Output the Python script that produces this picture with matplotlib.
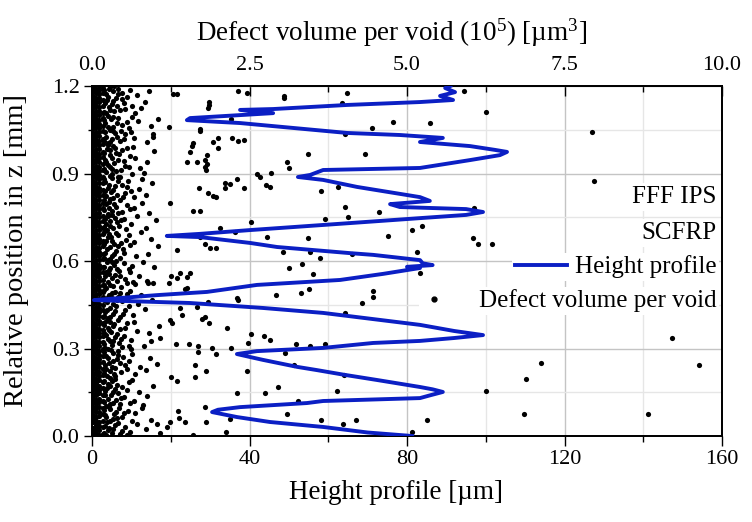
import matplotlib
matplotlib.use("Agg")
import matplotlib.pyplot as plt
from matplotlib.lines import Line2D
from matplotlib.ticker import MultipleLocator

plt.rcParams['font.family'] = ['Liberation Serif', 'DejaVu Serif']
plt.rcParams['mathtext.fontset'] = 'custom'
plt.rcParams['mathtext.rm'] = 'Liberation Serif'
plt.rcParams['mathtext.it'] = 'Liberation Serif:italic'

# height profile (um vs mm)
profile_z = [0.000, 0.012, 0.031, 0.048, 0.065, 0.082, 0.090, 0.099, 0.113, 0.120,
             0.130, 0.140, 0.151, 0.160, 0.168, 0.192, 0.210, 0.226, 0.237, 0.261,
             0.281, 0.291, 0.302, 0.319, 0.326, 0.336, 0.346, 0.360, 0.381, 0.422,
             0.439, 0.456, 0.463, 0.466, 0.483, 0.494, 0.518, 0.535, 0.556, 0.576,
             0.580, 0.586, 0.592, 0.603, 0.621, 0.627, 0.648, 0.662, 0.682, 0.686,
             0.693, 0.706, 0.730, 0.747, 0.758, 0.768, 0.778, 0.785, 0.795, 0.806,
             0.819, 0.854, 0.878, 0.888, 0.895, 0.912, 0.919, 0.946, 0.963, 0.974,
             0.981, 0.994, 1.008, 1.022, 1.032, 1.039, 1.073, 1.083, 1.090, 1.107,
             1.118, 1.121, 1.135, 1.145, 1.152, 1.166, 1.179, 1.193, 1.200]
profile_h = [81.3, 70.0, 58.7, 45.2, 36.8, 30.5, 32.0, 37.6, 54.6, 58.7,
             83.3, 86.0, 89.1, 86.5, 83.3, 72.4, 64.0, 57.1, 52.1, 43.4,
             36.8, 41.9, 58.7, 71.4, 83.3, 92.0, 99.3, 92.0, 83.3, 58.7,
             43.4, 24.9, 8.0, 0.5, 16.5, 29.2, 41.9, 63.0, 74.0, 83.3,
             80.0, 86.5, 84.0, 83.3, 71.4, 65.5, 47.0, 40.1, 27.4, 19.0,
             27.4, 40.1, 65.5, 83.3, 95.0, 99.3, 95.0, 78.2, 75.7, 85.8,
             83.3, 67.3, 58.7, 52.3, 55.4, 58.7, 83.3, 96.0, 103.6, 105.4,
             102.3, 96.0, 83.3, 89.1, 78.2, 64.8, 37.6, 24.1, 24.9, 46.0,
             37.6, 46.0, 64.8, 83.3, 91.7, 88.4, 92.2, 89.7, 91.0]

# saturated band of tiny voids right at the axis (1e5 um^3), one z list per column
band_vol = [0.01, 0.06, 0.11, 0.17]
band_z1 = [0.004, 0.016, 0.029, 0.047, 0.058, 0.073, 0.088, 0.101, 0.118, 0.131, 0.144, 0.162,
           0.175, 0.189, 0.204, 0.217, 0.233, 0.246, 0.262, 0.274, 0.291, 0.305, 0.318, 0.336,
           0.349, 0.363, 0.378, 0.392, 0.409, 0.421, 0.437, 0.452, 0.466, 0.481, 0.497, 0.509,
           0.526, 0.539, 0.555, 0.568, 0.584, 0.597, 0.613, 0.628, 0.641, 0.657, 0.672, 0.686,
           0.701, 0.715, 0.731, 0.744, 0.759, 0.774, 0.788, 0.803, 0.817, 0.833, 0.846, 0.862,
           0.876, 0.891, 0.905, 0.919, 0.935, 0.948, 0.964, 0.977, 0.993, 1.007, 1.022, 1.036,
           1.051, 1.066, 1.079, 1.095, 1.108, 1.124, 1.138, 1.153, 1.167, 1.182, 1.196]
band_z2 = [0.010, 0.023, 0.038, 0.052, 0.066, 0.081, 0.095, 0.110, 0.124, 0.139, 0.153, 0.168,
           0.182, 0.197, 0.211, 0.226, 0.240, 0.255, 0.269, 0.284, 0.298, 0.312, 0.327, 0.342,
           0.356, 0.371, 0.385, 0.400, 0.414, 0.429, 0.444, 0.459, 0.473, 0.488, 0.503, 0.517,
           0.532, 0.547, 0.561, 0.576, 0.590, 0.605, 0.620, 0.634, 0.649, 0.664, 0.679, 0.693,
           0.708, 0.722, 0.737, 0.752, 0.766, 0.781, 0.795, 0.810, 0.825, 0.840, 0.854, 0.869,
           0.883, 0.898, 0.912, 0.927, 0.942, 0.956, 0.971, 0.985, 1.000, 1.014, 1.029, 1.044,
           1.058, 1.073, 1.087, 1.102, 1.116, 1.131, 1.146, 1.160, 1.175, 1.189]
band_z3 = [0.002, 0.019, 0.034, 0.049, 0.070, 0.084, 0.099, 0.115, 0.128, 0.146, 0.159, 0.173,
           0.191, 0.206, 0.219, 0.237, 0.249, 0.265, 0.279, 0.293, 0.310, 0.323, 0.338, 0.352,
           0.367, 0.383, 0.396, 0.411, 0.426, 0.440, 0.454, 0.470, 0.486, 0.500, 0.513, 0.530,
           0.544, 0.559, 0.573, 0.588, 0.603, 0.617, 0.632, 0.646, 0.662, 0.676, 0.690, 0.706,
           0.719, 0.735, 0.750, 0.763, 0.779, 0.792, 0.808, 0.822, 0.837, 0.851, 0.866, 0.881,
           0.895, 0.910, 0.924, 0.939, 0.954, 0.968, 0.983, 0.997, 1.012, 1.027, 1.041, 1.056,
           1.070, 1.085, 1.100, 1.114, 1.129, 1.144, 1.158, 1.173, 1.187, 1.199]
band_z4 = [0.008, 0.031, 0.052, 0.077, 0.096, 0.121, 0.141, 0.166, 0.184, 0.209, 0.231, 0.253,
           0.276, 0.297, 0.321, 0.344, 0.362, 0.389, 0.407, 0.431, 0.449, 0.476, 0.494, 0.519,
           0.536, 0.563, 0.581, 0.606, 0.624, 0.651, 0.669, 0.694, 0.713, 0.738, 0.756, 0.782,
           0.799, 0.826, 0.843, 0.869, 0.887, 0.913, 0.931, 0.957, 0.975, 1.001, 1.019, 1.046,
           1.063, 1.089, 1.107, 1.133, 1.151, 1.177, 1.194]

# the dense cloud next to the band, (volume, z)
cloud_pts = [
    (0.22, 0.004), (0.31, 0.011), (0.27, 0.026), (0.36, 0.038), (0.24, 0.047), (0.33, 0.059),
    (0.21, 0.071), (0.38, 0.083), (0.29, 0.092), (0.45, 0.008), (0.52, 0.031), (0.48, 0.064),
    (0.57, 0.087), (0.43, 0.097), (0.61, 0.015), (0.72, 0.042), (0.68, 0.078), (0.85, 0.023),
    (0.93, 0.056), (1.08, 0.012), (0.79, 0.095), (0.55, 0.003),
    (0.23, 0.104), (0.34, 0.113), (0.26, 0.127), (0.30, 0.141), (0.21, 0.156), (0.37, 0.162),
    (0.25, 0.178), (0.32, 0.189), (0.28, 0.198), (0.44, 0.109), (0.51, 0.134), (0.47, 0.167),
    (0.58, 0.185), (0.42, 0.148), (0.66, 0.121), (0.74, 0.152), (0.63, 0.193), (0.88, 0.138),
    (0.97, 0.172), (0.81, 0.107),
    (0.24, 0.206), (0.35, 0.214), (0.22, 0.229), (0.31, 0.238), (0.27, 0.251), (0.39, 0.263),
    (0.23, 0.274), (0.33, 0.286), (0.26, 0.297), (0.46, 0.219), (0.53, 0.244), (0.49, 0.272),
    (0.41, 0.291), (0.59, 0.258), (0.69, 0.211), (0.76, 0.237), (0.64, 0.282), (0.86, 0.226),
    (0.92, 0.268), (1.03, 0.247),
    (0.21, 0.303), (0.32, 0.312), (0.28, 0.326), (0.37, 0.339), (0.23, 0.347), (0.30, 0.358),
    (0.26, 0.371), (0.35, 0.384), (0.22, 0.396), (0.43, 0.318), (0.50, 0.343), (0.45, 0.366),
    (0.56, 0.389), (0.48, 0.304), (0.62, 0.329), (0.71, 0.361), (0.67, 0.392), (0.83, 0.309),
    (0.90, 0.352), (1.06, 0.377),
    (0.25, 0.403), (0.33, 0.417), (0.21, 0.424), (0.29, 0.438), (0.38, 0.446), (0.24, 0.459),
    (0.31, 0.472), (0.27, 0.485), (0.36, 0.494), (0.44, 0.409), (0.52, 0.431), (0.47, 0.463),
    (0.55, 0.488), (0.42, 0.477), (0.65, 0.414), (0.73, 0.451), (0.61, 0.497), (0.84, 0.437),
    (0.95, 0.468), (0.78, 0.482),
    (0.22, 0.508), (0.34, 0.515), (0.26, 0.527), (0.31, 0.541), (0.37, 0.553), (0.23, 0.562),
    (0.29, 0.576), (0.35, 0.588), (0.24, 0.597), (0.46, 0.512), (0.53, 0.537), (0.43, 0.566),
    (0.50, 0.592), (0.58, 0.571), (0.68, 0.521), (0.75, 0.549), (0.64, 0.584), (0.87, 0.531),
    (0.99, 0.579), (0.81, 0.596),
    (0.26, 0.604), (0.32, 0.618), (0.21, 0.626), (0.38, 0.634), (0.28, 0.647), (0.35, 0.659),
    (0.23, 0.668), (0.30, 0.681), (0.27, 0.693), (0.45, 0.611), (0.49, 0.642), (0.54, 0.673),
    (0.42, 0.688), (0.60, 0.656), (0.70, 0.617), (0.66, 0.664), (0.77, 0.698), (0.89, 0.623),
    (0.94, 0.676), (1.04, 0.651),
    (0.24, 0.706), (0.33, 0.713), (0.22, 0.728), (0.29, 0.737), (0.36, 0.749), (0.25, 0.761),
    (0.31, 0.772), (0.38, 0.786), (0.23, 0.795), (0.43, 0.719), (0.51, 0.744), (0.47, 0.768),
    (0.56, 0.791), (0.62, 0.727), (0.72, 0.756), (0.67, 0.782), (0.85, 0.714), (0.91, 0.763),
    (0.80, 0.798), (1.01, 0.739),
    (0.27, 0.803), (0.34, 0.816), (0.22, 0.823), (0.30, 0.837), (0.25, 0.849), (0.37, 0.858),
    (0.21, 0.871), (0.32, 0.884), (0.28, 0.893), (0.44, 0.809), (0.52, 0.833), (0.48, 0.862),
    (0.41, 0.887), (0.57, 0.874), (0.66, 0.818), (0.74, 0.846), (0.63, 0.897), (0.86, 0.828),
    (0.96, 0.866), (0.79, 0.881),
    (0.23, 0.905), (0.31, 0.914), (0.26, 0.929), (0.35, 0.937), (0.21, 0.948), (0.29, 0.962),
    (0.38, 0.971), (0.24, 0.983), (0.33, 0.996), (0.46, 0.911), (0.50, 0.942), (0.43, 0.967),
    (0.55, 0.989), (0.59, 0.923), (0.69, 0.953), (0.76, 0.918), (0.65, 0.992), (0.88, 0.941),
    (0.98, 0.977), (0.82, 0.903),
    (0.25, 1.004), (0.32, 1.017), (0.22, 1.026), (0.37, 1.038), (0.28, 1.049), (0.34, 1.061),
    (0.21, 1.073), (0.30, 1.086), (0.26, 1.097), (0.45, 1.012), (0.53, 1.034), (0.47, 1.068),
    (0.42, 1.091), (0.58, 1.056), (0.67, 1.021), (0.73, 1.079), (0.62, 1.044), (0.87, 1.009),
    (0.93, 1.063), (1.05, 1.088),
    (0.23, 1.106), (0.35, 1.114), (0.27, 1.127), (0.31, 1.139), (0.24, 1.151), (0.38, 1.158),
    (0.22, 1.172), (0.33, 1.184), (0.29, 1.196), (0.44, 1.119), (0.51, 1.143), (0.48, 1.177),
    (0.56, 1.163), (0.41, 1.191), (0.64, 1.132), (0.71, 1.168), (0.68, 1.109), (0.84, 1.146),
    (0.91, 1.182), (0.78, 1.124),
]

# more of the cloud, nearer the band
cloud2_pts = [
    (0.19, 0.009), (0.26, 0.019), (0.34, 0.024), (0.20, 0.036), (0.29, 0.052), (0.41, 0.046),
    (0.23, 0.066), (0.35, 0.074), (0.19, 0.089), (0.27, 0.098), (0.40, 0.061), (0.48, 0.018),
    (0.63, 0.050), (0.50, 0.080),
    (0.19, 0.118), (0.28, 0.109), (0.38, 0.123), (0.20, 0.139), (0.33, 0.150), (0.24, 0.164),
    (0.40, 0.176), (0.19, 0.187), (0.29, 0.171), (0.36, 0.195), (0.55, 0.158), (0.46, 0.129),
    (0.60, 0.112),
    (0.19, 0.217), (0.28, 0.223), (0.37, 0.232), (0.20, 0.244), (0.33, 0.256), (0.25, 0.266),
    (0.42, 0.277), (0.19, 0.288), (0.30, 0.294), (0.37, 0.206), (0.56, 0.229), (0.45, 0.252),
    (0.62, 0.299),
    (0.19, 0.315), (0.26, 0.333), (0.34, 0.325), (0.19, 0.352), (0.40, 0.350), (0.27, 0.363),
    (0.33, 0.376), (0.19, 0.381), (0.29, 0.391), (0.41, 0.399), (0.53, 0.372), (0.59, 0.310),
    (0.46, 0.333),
    (0.19, 0.411), (0.28, 0.409), (0.37, 0.428), (0.24, 0.433), (0.33, 0.452), (0.19, 0.466),
    (0.40, 0.465), (0.25, 0.478), (0.32, 0.489), (0.19, 0.499), (0.49, 0.419), (0.58, 0.447),
    (0.44, 0.491),
    (0.19, 0.519), (0.28, 0.517), (0.39, 0.531), (0.21, 0.548), (0.27, 0.555), (0.40, 0.572),
    (0.19, 0.581), (0.31, 0.595), (0.45, 0.548), (0.55, 0.523), (0.38, 0.599), (0.61, 0.561),
    (0.27, 0.569),
    (0.19, 0.611), (0.29, 0.607), (0.35, 0.625), (0.24, 0.640), (0.41, 0.652), (0.19, 0.657),
    (0.32, 0.668), (0.25, 0.684), (0.38, 0.697), (0.19, 0.699), (0.51, 0.628), (0.46, 0.662),
    (0.58, 0.689),
    (0.19, 0.717), (0.28, 0.721), (0.39, 0.733), (0.21, 0.745), (0.32, 0.757), (0.19, 0.774),
    (0.27, 0.782), (0.41, 0.764), (0.35, 0.797), (0.54, 0.711), (0.46, 0.742), (0.60, 0.777),
    (0.26, 0.753),
    (0.19, 0.809), (0.29, 0.812), (0.39, 0.827), (0.20, 0.839), (0.34, 0.845), (0.27, 0.862),
    (0.41, 0.873), (0.19, 0.881), (0.31, 0.897), (0.49, 0.818), (0.55, 0.853), (0.45, 0.889),
    (0.62, 0.841),
    (0.19, 0.917), (0.28, 0.921), (0.38, 0.909), (0.22, 0.939), (0.32, 0.952), (0.41, 0.946),
    (0.19, 0.971), (0.29, 0.979), (0.36, 0.989), (0.52, 0.927), (0.47, 0.981), (0.61, 0.961),
    (0.25, 0.997),
    (0.19, 1.011), (0.29, 1.009), (0.40, 1.025), (0.20, 1.041), (0.33, 1.045), (0.25, 1.058),
    (0.39, 1.072), (0.19, 1.082), (0.34, 1.094), (0.50, 1.017), (0.55, 1.075), (0.46, 1.047),
    (0.63, 1.093),
    (0.19, 1.111), (0.28, 1.118), (0.39, 1.131), (0.20, 1.143), (0.34, 1.149), (0.26, 1.163),
    (0.41, 1.171), (0.19, 1.186), (0.35, 1.199), (0.53, 1.121), (0.47, 1.154), (0.60, 1.188),
    (0.27, 1.189),
]

# larger, isolated voids, (volume, z)
sparse_pts = [
    (1.60, 0.003), (2.13, 0.014), (1.19, 0.031), (1.03, 0.041), (3.98, 0.041), (1.24, 0.048),
    (1.48, 0.048), (1.81, 0.048), (3.63, 0.055), (4.19, 0.055), (2.19, 0.058), (1.38, 0.062),
    (3.10, 0.075), (1.37, 0.086), (1.79, 0.099), (3.27, 0.120), (2.30, 0.147), (2.75, 0.147),
    (3.89, 0.154), (2.95, 0.168), (1.35, 0.189), (1.25, 0.202), (1.63, 0.202), (4.00, 0.209),
    (1.81, 0.223), (2.46, 0.223), (1.63, 0.243), (3.21, 0.243), (3.06, 0.285), (1.97, 0.281),
    (1.68, 0.288), (2.21, 0.302), (1.90, 0.302), (1.68, 0.309), (3.46, 0.309), (1.54, 0.315),
    (1.33, 0.315), (3.24, 0.315), (3.70, 0.315), (2.48, 0.319), (0.94, 0.326), (2.83, 0.329),
    (1.08, 0.336), (2.73, 0.343), (2.52, 0.350), (2.14, 0.370), (1.27, 0.387), (1.86, 0.387),
    (1.24, 0.398), (1.75, 0.401), (1.79, 0.408), (1.43, 0.415), (4.02, 0.422), (1.40, 0.439),
    (1.67, 0.442), (4.29, 0.456), (1.84, 0.459), (2.32, 0.466), (2.30, 0.473), (4.46, 0.477),
    (2.92, 0.483), (3.32, 0.490), (4.46, 0.497), (3.44, 0.504), (1.48, 0.504), (1.51, 0.507),
    (0.89, 0.525), (0.97, 0.525), (1.22, 0.525), (0.65, 0.528), (1.35, 0.542), (1.51, 0.545),
    (1.25, 0.549), (3.51, 0.555), (1.40, 0.559), (1.56, 0.559), (3.13, 0.576), (3.33, 0.590),
    (3.62, 0.610), (4.13, 0.624), (3.03, 0.631), (3.46, 0.631), (1.35, 0.638), (1.87, 0.645),
    (1.97, 0.645), (1.79, 0.658), (1.71, 0.682), (2.78, 0.682), (3.43, 0.679), (4.70, 0.686),
    (2.27, 0.699), (2.03, 0.713), (2.52, 0.734), (3.70, 0.744), (4.06, 0.751), (4.56, 0.768),
    (1.60, 0.771), (1.71, 0.771), (4.02, 0.785), (1.24, 0.799), (1.97, 0.819), (1.92, 0.823),
    (1.84, 0.833), (3.63, 0.840), (1.70, 0.850), (2.11, 0.850), (2.41, 0.850), (2.83, 0.854),
    (3.90, 0.854), (2.76, 0.861), (2.19, 0.864), (2.11, 0.867), (2.30, 0.881), (2.67, 0.888),
    (2.62, 0.898), (2.84, 0.902), (1.81, 0.912), (3.13, 0.919), (1.79, 0.922), (1.83, 0.933),
    (1.51, 0.939), (1.67, 0.939), (3.10, 0.939), (1.79, 0.946), (1.83, 0.963), (3.43, 0.967),
    (4.33, 0.967), (1.56, 0.974), (2.00, 0.987), (1.59, 0.994), (1.60, 1.005), (1.92, 1.008),
    (2.32, 1.011), (2.41, 1.015), (2.00, 1.022), (2.22, 1.022), (0.97, 1.025), (0.97, 1.035),
    (4.02, 1.035), (1.71, 1.046), (1.71, 1.053), (4.44, 1.056), (1.22, 1.059), (4.78, 1.077),
    (2.21, 1.087), (1.84, 1.125), (1.86, 1.135), (3.97, 1.142), (1.86, 1.145), (3.05, 1.159),
    (3.05, 1.166), (1.29, 1.173), (1.35, 1.173), (2.46, 1.176), (4.05, 1.176), (2.32, 1.183),
    (5.08, 0.014), (5.32, 0.055), (6.86, 0.075), (8.83, 0.075), (6.25, 0.154), (6.89, 0.195),
    (9.63, 0.243), (7.13, 0.250), (9.21, 0.336), (5.21, 0.559), (5.16, 0.631), (6.13, 0.658),
    (6.35, 0.658), (6.05, 0.679), (5.08, 0.706), (5.24, 0.720), (6.06, 0.782), (7.97, 0.874),
    (7.94, 1.042), (5.37, 1.073), (6.25, 1.111), (5.90, 1.183),
]

void_vol = []
void_z = []
for vol, zs in zip(band_vol, [band_z1, band_z2, band_z3, band_z4]):
    void_vol += [vol] * len(zs)
    void_z += zs
for vol, z in cloud_pts + cloud2_pts + sparse_pts:
    void_vol.append(vol)
    void_z.append(z)

blue = '#0b1fc4'

fig = plt.figure(figsize=(7.52, 5.22), dpi=100)
ax = fig.add_axes([92 / 752, 86 / 522, 630 / 752, 350 / 522])

# top axis: defect volume (scatter), drawn underneath
ax.scatter(void_vol, void_z, s=14, color='black', linewidths=0, zorder=2)
ax.set_xlim(0, 10)
ax.set_ylim(0, 1.2)
ax.yaxis.set_major_locator(MultipleLocator(0.3))
ax.yaxis.set_minor_locator(MultipleLocator(0.15))
ax.xaxis.set_major_locator(MultipleLocator(2.5))
ax.xaxis.set_minor_locator(MultipleLocator(1.25))
ax.tick_params(axis='y', which='major', direction='out', length=6, width=1, pad=3, labelsize=16)
ax.tick_params(axis='y', which='minor', direction='out', length=3, width=1)
ax.grid(which='major', color='#c4c4c4', lw=1)
ax.grid(which='minor', color='#e6e6e6', lw=1)
ax.set_axisbelow(True)
ax.set_ylabel('Relative position in z [mm]', fontsize=20.5)
ax.yaxis.set_label_coords(-0.1, 0.53)

# bottom axis: height profile, drawn on top
ax2 = ax.twiny()
ax2.plot(profile_h, profile_z, color=blue, lw=2.8, zorder=3)
ax2.set_xlim(0, 160)
ax2.xaxis.tick_bottom()
ax2.xaxis.set_label_position('bottom')
ax2.xaxis.set_major_locator(MultipleLocator(40))
ax2.xaxis.set_minor_locator(MultipleLocator(20))
ax2.tick_params(axis='x', which='major', direction='out', length=7, width=1, pad=3, labelsize=16)
ax2.tick_params(axis='x', which='minor', direction='out', length=4, width=1)
ax2.set_xlabel('Height profile [µm]', fontsize=19.5)
ax2.xaxis.set_label_coords(0.482, -0.125)

# twiny() moved ax's ticks to the bottom, put them back on top
ax.xaxis.tick_top()
ax.xaxis.set_label_position('top')
ax.tick_params(axis='x', which='major', direction='in', length=7, width=1, pad=8, labelsize=16)
ax.tick_params(axis='x', which='minor', direction='in', length=4, width=1)
ax.set_xlabel('Defect volume per void (10$^{5}$) [µm$^{3}$]', fontsize=19.5)
ax.xaxis.set_label_coords(0.475, 1.13)

for a in (ax, ax2):
    for sp in a.spines.values():
        sp.set_linewidth(1.3)

# legend: one right-aligned row each, white behind
rows = [
    ('FFF IPS', Line2D([], [], linestyle='none'), 0.683, 0, 0),
    ('SCFRP', Line2D([], [], linestyle='none'), 0.580, 0, 0),
    ('Height profile', Line2D([], [], color=blue, lw=2.8), 0.483, 2.1, 0.3),
    ('Defect volume per void', Line2D([], [], linestyle='none', marker='o', markersize=3.5,
                                      color='black'), 0.386, 1.0, 1.3),
]
for label, handle, y, hlen, hpad in rows:
    leg = ax2.legend([handle], [label], loc='center right', bbox_to_anchor=(0.995, y),
                     fontsize=18, frameon=True, framealpha=1, fancybox=False,
                     edgecolor='none', borderpad=0.1, borderaxespad=0,
                     handlelength=hlen, handletextpad=hpad)
    leg.set_zorder(10)
    ax2.add_artist(leg)

fig.savefig('out.png', dpi=100)
